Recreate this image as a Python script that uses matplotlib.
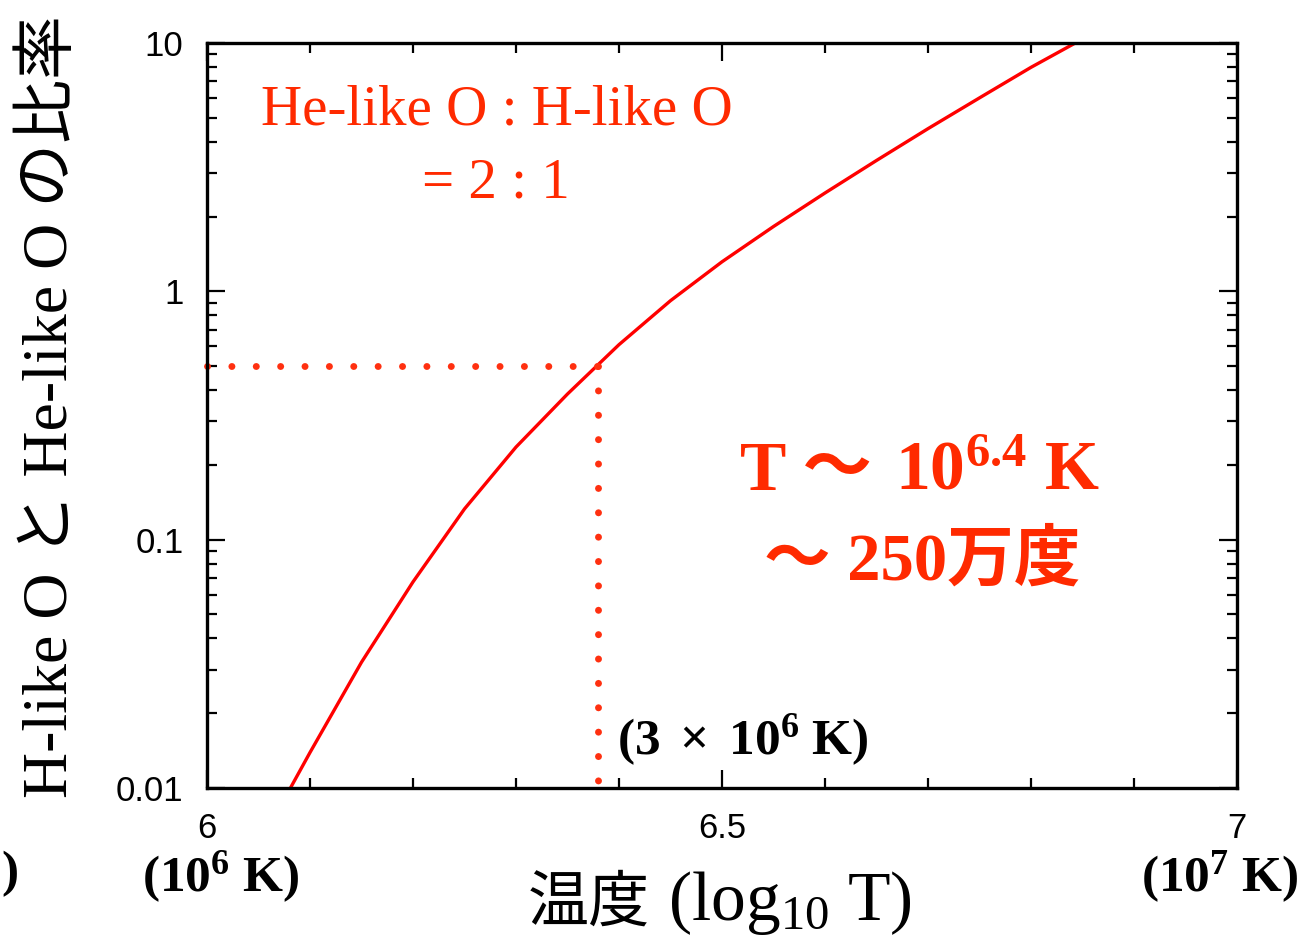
import matplotlib
matplotlib.use("Agg")
import matplotlib.pyplot as plt
from matplotlib.ticker import FixedLocator, NullFormatter

# ratio of H-like O to He-like O vs. log10 temperature
log_t = [6.081, 6.10, 6.15, 6.20, 6.25, 6.30, 6.35, 6.40, 6.45,
         6.50, 6.55, 6.60, 6.65, 6.70, 6.75, 6.80, 6.843]
ratio = [0.0100, 0.0139, 0.0321, 0.0676, 0.133, 0.236, 0.386, 0.610, 0.917,
         1.315, 1.824, 2.489, 3.365, 4.519, 6.012, 7.980, 10.0]

# He-like : H-like = 2 : 1  ->  ratio 0.5
cross_t = 6.38
cross_ratio = 0.5

x_ticks = [6, 6.5, 7]
x_tick_labels = ["6", "6.5", "7"]
x_minor = [6.1, 6.2, 6.3, 6.4, 6.6, 6.7, 6.8, 6.9]
y_ticks = [0.01, 0.1, 1, 10]
y_tick_labels = ["0.01", "0.1", "1", "10"]

RED_TEXT = "#ff2a00"
SERIF = ["Liberation Serif", "Noto Sans CJK JP"]

plt.rcParams["mathtext.fontset"] = "custom"
plt.rcParams["mathtext.rm"] = "Liberation Serif"
plt.rcParams["mathtext.it"] = "Liberation Serif:italic"
plt.rcParams["mathtext.bf"] = "Liberation Serif:bold"

fig = plt.figure(figsize=(13.07, 9.36), dpi=100)
ax = fig.add_axes([207 / 1307, 1 - 788 / 936, 1030 / 1307, 745 / 936])

ax.plot(log_t, ratio, color="#ff0000", lw=2.4, solid_joinstyle="round")

# dotted guide lines
dot_style = dict(color="#ff3010", lw=5, linestyle=(0, (0.01, 3.5)),
                 dash_capstyle="round", clip_on=False)
ax.plot([6, cross_t], [cross_ratio, cross_ratio], **dot_style)
ax.plot([cross_t, cross_t], [cross_ratio, 0.01], **dot_style)

ax.set_xlim(6, 7)
ax.set_yscale("log")
ax.set_ylim(0.01, 10)

ax.set_xticks(x_ticks)
ax.set_xticklabels(x_tick_labels)
ax.xaxis.set_minor_locator(FixedLocator(x_minor))
ax.set_yticks(y_ticks)
ax.set_yticklabels(y_tick_labels)
y_minor = [m * d for d in [0.01, 0.1, 1] for m in range(2, 10)]
ax.yaxis.set_minor_locator(FixedLocator(y_minor))
ax.yaxis.set_minor_formatter(NullFormatter())

for lab in ax.get_xticklabels() + ax.get_yticklabels():
    lab.set_fontfamily("Liberation Sans")
    lab.set_fontsize(25)

ax.tick_params(which="both", direction="in", top=True, right=True, width=1.6, color="black")
ax.tick_params(which="major", length=13)
ax.tick_params(which="minor", length=7)
ax.tick_params(axis="x", which="major", pad=17)
ax.tick_params(axis="y", which="major", pad=17)
for sp in ax.spines.values():
    sp.set_linewidth(2.4)

# annotations
ax.text(0.2816, 0.909, "He-like O : H-like O", transform=ax.transAxes, ha="center",
        va="center", color=RED_TEXT, fontsize=41, family=SERIF)
ax.text(0.28, 0.812, "= 2 : 1", transform=ax.transAxes, ha="center", va="center",
        color=RED_TEXT, fontsize=41, family=SERIF)
ax.text(0.5175, 0.40, "T 〜", transform=ax.transAxes, ha="left", va="baseline",
        color=RED_TEXT, fontsize=50, fontweight="bold", family=SERIF)
ax.text(0.668, 0.40, r"$\mathbf{10^{6.4}\ K}$", transform=ax.transAxes,
        ha="left", va="baseline", color=RED_TEXT, fontsize=50)
ax.text(0.694, 0.303, "〜 250万度", transform=ax.transAxes, ha="center", va="center",
        color=RED_TEXT, fontsize=48, fontweight="bold", family=SERIF)
ax.text(0.398, 0.064, r"$\mathbf{(3\ \times\ 10^6\ K)}$", transform=ax.transAxes,
        ha="left", va="center", color="black", fontsize=37)

# decade labels under the x axis
fig.text(221 / 1307, 1 - 877 / 936, r"$\mathbf{(10^6\ K)}$", ha="center", va="center",
         fontsize=37)
fig.text(1220 / 1307, 1 - 877 / 936, r"$\mathbf{(10^7\ K)}$", ha="center", va="center",
         fontsize=37)
fig.text(1 / 1307, 1 - 874 / 936, ")", ha="left", va="center", fontsize=37,
         fontweight="bold", family="Liberation Serif")

# axis titles
fig.text(650 / 1307, 1 - 903 / 936, "温度", ha="right", va="center", fontsize=44,
         family="Noto Sans CJK JP")
fig.text(668 / 1307, 1 - 903 / 936, r"$\mathrm{(log_{10}\ T)}$", ha="left", va="center",
         fontsize=50)
fig.text(52 / 1307, 1 - 407 / 936, "H-like O と He-like O の比率", rotation=90,
         ha="center", va="center", fontsize=46, family=SERIF)

fig.savefig("out.png", dpi=100)
